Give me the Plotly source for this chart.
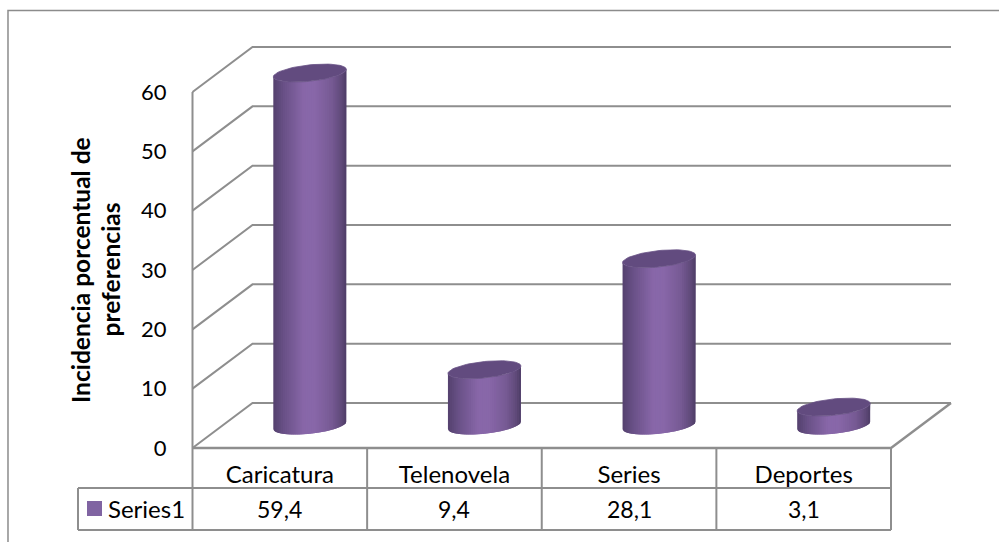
import numpy as np
import plotly.graph_objects as go

# ---- data ----
categories = ["Caricatura", "Telenovela", "Series", "Deportes"]
values = [59.4, 9.4, 28.1, 3.1]
y_ticks = [0, 10, 20, 30, 40, 50, 60]
series_name = "Series1"
axis_title_lines = ["Incidencia porcentual de", "preferencias"]

# ---- page geometry (pixels) -> axis ranges ----
W, H = 999, 542
X0, X1 = 192.5, 891.0      # front floor edge
Y0, Y60 = 448.0, 92.0      # value 0 / 60 on front wall
PX_X = (X1 - X0) / len(categories)
PX_Y = (Y0 - Y60) / 60.0
DX, DY = 60.0 / PX_X, 45.0 / PX_Y   # full depth offset in axis units
x_range = [(0 - X0) / PX_X, (W - X0) / PX_X]
y_range = [(Y0 - H) / PX_Y, Y0 / PX_Y]
GRAY = "#8e8e8e"
TXT = "#000000"
FONT = "Lato"


def below(py):
    """Axis value for a pixel row."""
    return (Y0 - py) / PX_Y


def across(px):
    """Axis position for a pixel column."""
    return (px - X0) / PX_X


fig = go.Figure()


def add_lines(xs, ys, width=2.0):
    fig.add_trace(go.Scatter(x=xs, y=ys, mode="lines", showlegend=False, hoverinfo="skip",
                             line=dict(color=GRAY, width=width)))


# walls + gridlines
top = max(y_ticks)
n = len(categories)
gx, gy = [], []
for t in y_ticks:
    gx += [0, DX, n + DX, None]
    gy += [t, t + DY, t + DY, None]
add_lines(gx, gy)
add_lines([0, 0], [0, top])
add_lines([0, n, n + DX], [0, 0, DY], 2.4)

# table lines
tb1, tb2 = below(488), below(530)
tx, ty = [], []
for i in range(n + 1):
    tx += [i, i, None]
    ty += [0, tb2, None]
left = across(78)
tx += [left, n, None, left, n, None, left, left]
ty += [tb1, tb1, None, tb2, tb2, None, tb1, tb2]
add_lines(tx, ty)

# cylinders built from vertical gradient strips
R = 36.5 / PX_X
TILT = 3.7 / PX_Y
MINOR = 8.2 / PX_Y
STOPS = [(0.0, (84, 64, 110)), (0.14, (104, 80, 134)), (0.42, (136, 103, 169)),
         (0.56, (136, 103, 169)), (0.8, (118, 90, 148)), (0.93, (96, 74, 122)), (1.0, (78, 60, 102))]
N = 38


def ramp(f):
    r = [np.interp(f, [s[0] for s in STOPS], [s[1][k] for s in STOPS]) for k in range(3)]
    return "rgb(%d,%d,%d)" % tuple(int(round(c)) for c in r)


def front_edge(u):
    return TILT * u - MINOR * np.sqrt(np.clip(1 - u * u, 0, 1))


edges = np.linspace(-1, 1, N + 1)
for k in range(N):
    u = np.linspace(edges[k], min(edges[min(k + 2, N)], 1), 5)
    px, py = [], []
    for i, v in enumerate(values):
        cx = i + 0.5 + DX / 2
        base = DY / 2
        px += list(cx + R * u) + list(cx + R * u[::-1]) + [None]
        py += list(base + v + front_edge(u)) + list(base + front_edge(u[::-1])) + [None]
    fig.add_trace(go.Scatter(x=px, y=py, mode="lines", fill="toself", fillcolor=ramp((k + 0.5) / N),
                             line=dict(width=0), showlegend=False, hoverinfo="skip"))

# cylinder tops
t = np.linspace(0, 2 * np.pi, 73)
for i, v in enumerate(values):
    cx = i + 0.5 + DX / 2
    fig.add_trace(go.Scatter(x=cx + R * np.cos(t),
                             y=DY / 2 + v + TILT * np.cos(t) + MINOR * np.sin(t),
                             mode="lines", fill="toself", fillcolor="#624b7f",
                             line=dict(width=0.8, color="#6a5387"), showlegend=False, hoverinfo="skip"))

# legend key in the data table
fig.add_trace(go.Scatter(x=[across(94.5)], y=[below(508.5)], mode="markers", showlegend=False,
                         hoverinfo="skip", marker=dict(symbol="square", size=15, color="#8064a2")))

ann = [dict(x=across(106), y=below(508.5), text=series_name, xanchor="left", yanchor="middle",
            showarrow=False, font=dict(family=FONT, size=24, color=TXT))]
for i, v in enumerate(values):
    ann.append(dict(x=i + 0.5, y=below(509), text=f"{v:.1f}".replace(".", ","), showarrow=False,
                    xanchor="center", yanchor="middle", font=dict(family=FONT, size=23, color=TXT)))
for line, xpx in zip(axis_title_lines, (80, 109.5)):
    ann.append(dict(x=across(xpx), y=below(270), text="<b>" + line + "</b>",
                    textangle=-90, showarrow=False, xanchor="center", yanchor="middle",
                    font=dict(family=FONT, size=24.5, color=TXT)))

fig.update_layout(
    width=W, height=H, margin=dict(l=0, r=0, t=0, b=0),
    paper_bgcolor="white", plot_bgcolor="white", showlegend=False, annotations=ann,
    shapes=[dict(type="path", xref="paper", yref="paper",
                 path="M 0.008 0 L 0.008 0.9806 L 1 0.9806",
                 line=dict(color="#8c8c8c", width=1.5))],
    xaxis=dict(range=x_range, showgrid=False, zeroline=False, showline=False, anchor="free",
               position=(H - Y0) / H, tickmode="array", tickvals=[i + 0.5 for i in range(n)],
               ticktext=categories, ticks="", ticklabelstandoff=10,
               tickfont=dict(family=FONT, size=24, color=TXT)),
    yaxis=dict(range=y_range, showgrid=False, zeroline=False, showline=False, anchor="free",
               position=X0 / W, tickmode="array", tickvals=y_ticks, ticks="", ticklabelstandoff=26,
               tickfont=dict(family=FONT, size=22, color=TXT)),
)

fig.write_html("out.html", config=dict(displayModeBar=False),
               post_script="document.body.style.margin='0';document.body.style.overflow='hidden';")
